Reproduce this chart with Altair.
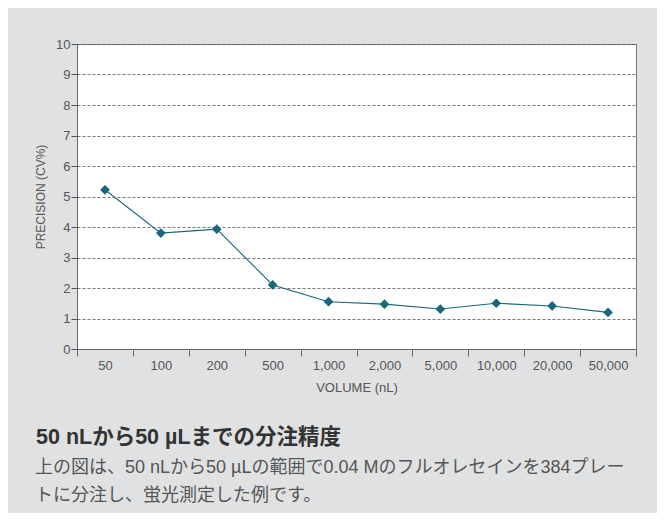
import altair as alt
import pandas as pd

volumes = ["50", "100", "200", "500", "1,000", "2,000", "5,000", "10,000", "20,000", "50,000"]
precision = [5.22, 3.80, 3.93, 2.10, 1.55, 1.47, 1.31, 1.50, 1.41, 1.20]

heading = "50 nLから50 µLまでの分注精度"
caption_lines = [
    "上の図は、50 nLから50 µLの範囲で0.04 Mのフルオレセインを384プレー",
    "トに分注し、蛍光測定した例です。",
]

df = pd.DataFrame({"volume": volumes, "cv": precision})

AX_FONT = "Liberation Sans"
JP_FONT = "Liberation Sans, Noto Sans CJK JP"
TEAL = "#17687a"

x_enc = alt.X(
    "volume:N",
    sort=volumes,
    bandPosition=0.5,
    scale=alt.Scale(type="band", paddingInner=0, paddingOuter=0),
    axis=alt.Axis(
        title="VOLUME (nL)",
        labelAngle=0,
        tickBand="extent",
        tickSize=7,
        tickColor="#666",
        domainColor="#666",
        labelColor="#555",
        labelFont=AX_FONT,
        labelFontSize=13,
        labelPadding=3,
        titleFont=AX_FONT,
        titleFontSize=13,
        titleFontWeight="normal",
        titleColor="#555",
        titlePadding=9,
        grid=False,
    ),
)
y_enc = alt.Y(
    "cv:Q",
    scale=alt.Scale(domain=[0, 10], nice=False),
    axis=alt.Axis(
        title="PRECISION (CV%)",
        values=list(range(0, 11)),
        tickSize=6,
        tickColor="#555",
        domainColor="#666",
        labelColor="#555",
        labelFont=AX_FONT,
        labelFontSize=13,
        labelPadding=1,
        titleFont=AX_FONT,
        titleFontSize=12,
        titleFontWeight="normal",
        titleColor="#555",
        titlePadding=8,
        grid=True,
        gridColor="#555",
        gridDash=[3, 2],
        gridWidth=0.8,
    ),
)

base = alt.Chart(df).encode(x=x_enc, y=y_enc)
line = base.mark_line(color=TEAL, strokeWidth=1.1)
pts = base.mark_point(shape="diamond", filled=True, size=95, color=TEAL, opacity=1)

title_txt = alt.Chart(pd.DataFrame({"t": [heading]})).mark_text(
    align="left", baseline="middle", font=JP_FONT, fontSize=21.5, fontWeight="bold", color="#333"
).encode(text="t:N", x=alt.value(-41), y=alt.value(394))

cap1 = alt.Chart(pd.DataFrame({"t": [caption_lines[0]]})).mark_text(
    align="left", baseline="middle", font=JP_FONT, fontSize=18, color="#555"
).encode(text="t:N", x=alt.value(-42), y=alt.value(424))
cap2 = alt.Chart(pd.DataFrame({"t": [caption_lines[1]]})).mark_text(
    align="left", baseline="middle", font=JP_FONT, fontSize=18, color="#555"
).encode(text="t:N", x=alt.value(-42), y=alt.value(452))

chart = (
    alt.layer(line, pts, title_txt, cap1, cap2)
    .properties(
        width=559,
        height=305,
        autosize=alt.AutoSizeParams(type="none"),
        padding={"left": 69, "top": 36, "right": 21, "bottom": 164},
        background="#e0e1e3",
    )
    .configure_view(fill="white", stroke="#777", strokeWidth=1)
)

chart.save("out.html", embed_options={"renderer": "svg", "actions": False})
